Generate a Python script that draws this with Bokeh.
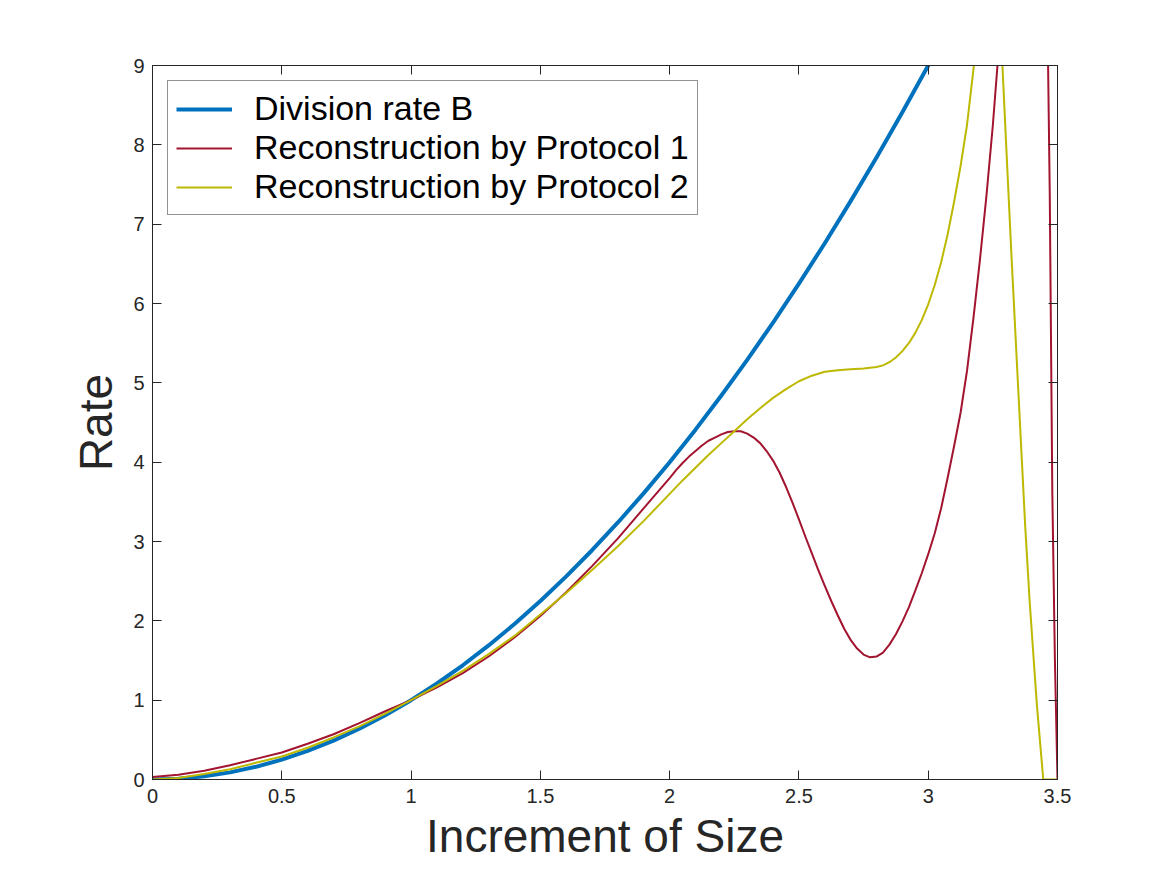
from bokeh.plotting import figure
from bokeh.models import LinearAxis, FixedTicker, Range1d, Legend, LegendItem
from bokeh.embed import file_html
from bokeh.resources import INLINE

# Division rate B as a function of the size increment
size_b = [0.0, 0.1, 0.2, 0.3, 0.4, 0.5, 0.6, 0.7, 0.8, 0.9, 1.0,
          1.1, 1.2, 1.3, 1.4, 1.5, 1.6, 1.7, 1.8, 1.9, 2.0,
          2.1, 2.2, 2.3, 2.4, 2.5, 2.6, 2.7, 2.8, 2.9, 3.0, 3.1]
rate_b = [0.0, 0.01, 0.04, 0.09, 0.16, 0.25, 0.36, 0.49, 0.64, 0.81, 1.0,
          1.21, 1.44, 1.69, 1.96, 2.25, 2.56, 2.89, 3.24, 3.61, 4.0,
          4.41, 4.84, 5.29, 5.76, 6.25, 6.76, 7.29, 7.84, 8.41, 9.0, 9.61]

# Reconstruction by Protocol 1
size_p1 = [0.0, 0.1, 0.2, 0.3, 0.4, 0.5, 0.6, 0.7, 0.8, 0.9, 1.0,
           1.1, 1.2, 1.3, 1.4, 1.5, 1.6, 1.7, 1.8, 1.9, 2.0,
           2.025, 2.05, 2.075, 2.1, 2.125, 2.15, 2.175, 2.2, 2.225, 2.25,
           2.275, 2.3, 2.325, 2.35, 2.375, 2.4, 2.425, 2.45, 2.475, 2.5,
           2.525, 2.55, 2.575, 2.6, 2.625, 2.65, 2.675, 2.7, 2.725, 2.75,
           2.775, 2.8, 2.825, 2.85, 2.875, 2.9, 2.925, 2.95, 2.975, 3.0,
           3.025, 3.05, 3.075, 3.1, 3.125, 3.15, 3.175, 3.2, 3.225, 3.25,
           3.275, 3.3, 3.325, 3.35, 3.4, 3.44, 3.46, 3.47, 3.48, 3.49, 3.5]
rate_p1 = [0.03, 0.06, 0.11, 0.18, 0.26, 0.34, 0.45, 0.57, 0.71, 0.86, 1.0,
           1.16, 1.34, 1.55, 1.79, 2.06, 2.36, 2.69, 3.04, 3.42, 3.80,
           3.90, 3.99, 4.07, 4.14, 4.21, 4.27, 4.31, 4.35, 4.38, 4.39,
           4.39, 4.36, 4.31, 4.24, 4.14, 4.02, 3.87, 3.69, 3.49, 3.28,
           3.06, 2.85, 2.64, 2.44, 2.25, 2.07, 1.90, 1.76, 1.65, 1.575,
           1.54, 1.55, 1.60, 1.70, 1.83, 1.99, 2.17, 2.38, 2.60, 2.84,
           3.10, 3.42, 3.80, 4.20, 4.62, 5.15, 5.82, 6.55, 7.35, 8.25,
           9.3, 10.4, 11.5, 12.5, 13.5, 12.0, 9.9, 7.4, 3.6, 1.5, 0.0]

# Reconstruction by Protocol 2
size_p2 = [0.0, 0.1, 0.2, 0.3, 0.4, 0.5, 0.6, 0.7, 0.8, 0.9, 1.0,
           1.1, 1.2, 1.3, 1.4, 1.5, 1.6, 1.7, 1.8, 1.9, 2.0,
           2.05, 2.1, 2.15, 2.2, 2.25, 2.3, 2.35, 2.4, 2.45, 2.5,
           2.55, 2.6, 2.65, 2.7, 2.75, 2.8, 2.825, 2.85, 2.875, 2.9,
           2.925, 2.95, 2.975, 3.0, 3.025, 3.05, 3.075, 3.1, 3.125, 3.15,
           3.175, 3.2, 3.225, 3.25, 3.27, 3.287, 3.3, 3.322, 3.35, 3.375,
           3.392, 3.42, 3.445, 3.5]
rate_p2 = [0.0, 0.02, 0.07, 0.13, 0.21, 0.29, 0.40, 0.53, 0.67, 0.83, 1.0,
           1.18, 1.37, 1.58, 1.81, 2.08, 2.35, 2.64, 2.94, 3.26, 3.60,
           3.77, 3.93, 4.09, 4.24, 4.39, 4.54, 4.68, 4.81, 4.92, 5.02,
           5.09, 5.14, 5.16, 5.17, 5.18, 5.20, 5.22, 5.26, 5.32, 5.40,
           5.50, 5.63, 5.79, 5.99, 6.23, 6.52, 6.87, 7.28, 7.73, 8.25,
           8.95, 9.9, 10.7, 11.0, 10.2, 9.0, 8.1, 6.6, 4.8, 3.2,
           2.26, 0.95, 0.0, 0.0]

series_names = ["Division rate B", "Reconstruction by Protocol 1", "Reconstruction by Protocol 2"]

x_ticks = [0, 0.5, 1, 1.5, 2, 2.5, 3, 3.5]
x_tick_labels = ["0", "0.5", "1", "1.5", "2", "2.5", "3", "3.5"]
y_ticks = [0, 1, 2, 3, 4, 5, 6, 7, 8, 9]
y_tick_labels = ["0", "1", "2", "3", "4", "5", "6", "7", "8", "9"]

FONT = "Liberation Sans"
INK = "#262626"

p = figure(width=1167, height=875, output_backend="svg", toolbar_location=None,
           x_range=Range1d(0, 3.5), y_range=Range1d(0, 9),
           min_border_left=152, min_border_right=110,
           min_border_top=65, min_border_bottom=96,
           background_fill_color="white", border_fill_color="white")
p.xgrid.visible = False
p.ygrid.visible = False
p.outline_line_color = INK
p.outline_line_width = 1


def style_axis(ax, ticks, labels, show_labels, standoff):
    ax.ticker = FixedTicker(ticks=ticks)
    ax.major_label_overrides = {t: l for t, l in zip(ticks, labels)}
    ax.major_tick_in = 9
    ax.major_tick_out = 0
    ax.minor_tick_line_color = None
    ax.axis_line_color = INK
    ax.major_tick_line_color = INK
    ax.major_label_text_font = FONT
    ax.major_label_text_font_size = "20px"
    ax.major_label_text_color = INK if show_labels else None
    ax.major_label_standoff = standoff
    ax.axis_label_text_font = FONT
    ax.axis_label_text_font_size = "46px"
    ax.axis_label_text_font_style = "normal"
    ax.axis_label_text_color = INK


style_axis(p.xaxis[0], x_ticks, x_tick_labels, True, 9)
style_axis(p.yaxis[0], y_ticks, y_tick_labels, True, 8)
p.xaxis[0].axis_label = "Increment of Size"
p.xaxis[0].axis_label_standoff = 4
p.yaxis[0].axis_label = "Rate"
p.yaxis[0].axis_label_standoff = 8

top_axis = LinearAxis()
style_axis(top_axis, x_ticks, x_tick_labels, False, 8)
p.add_layout(top_axis, "above")
right_axis = LinearAxis()
style_axis(right_axis, y_ticks, y_tick_labels, False, 8)
p.add_layout(right_axis, "right")

r_b = p.line(size_b, rate_b, line_color="#0072BD", line_width=4, line_join="round")
r_p1 = p.line(size_p1, rate_p1, line_color="#A2142F", line_width=2, line_join="round")
r_p2 = p.line(size_p2, rate_p2, line_color="#BDB800", line_width=2, line_join="round")

legend = Legend(items=[LegendItem(label=series_names[0], renderers=[r_b]),
                       LegendItem(label=series_names[1], renderers=[r_p1]),
                       LegendItem(label=series_names[2], renderers=[r_p2])],
                location="top_left", margin=15, padding=8, spacing=0,
                glyph_width=56, glyph_height=38, label_height=38,
                label_standoff=22,
                label_text_font=FONT, label_text_font_size="34px",
                label_text_color="black",
                border_line_color=INK, border_line_width=1,
                background_fill_color="white", background_fill_alpha=1.0)
p.add_layout(legend)

open("out.html", "w").write(file_html(p, INLINE))
